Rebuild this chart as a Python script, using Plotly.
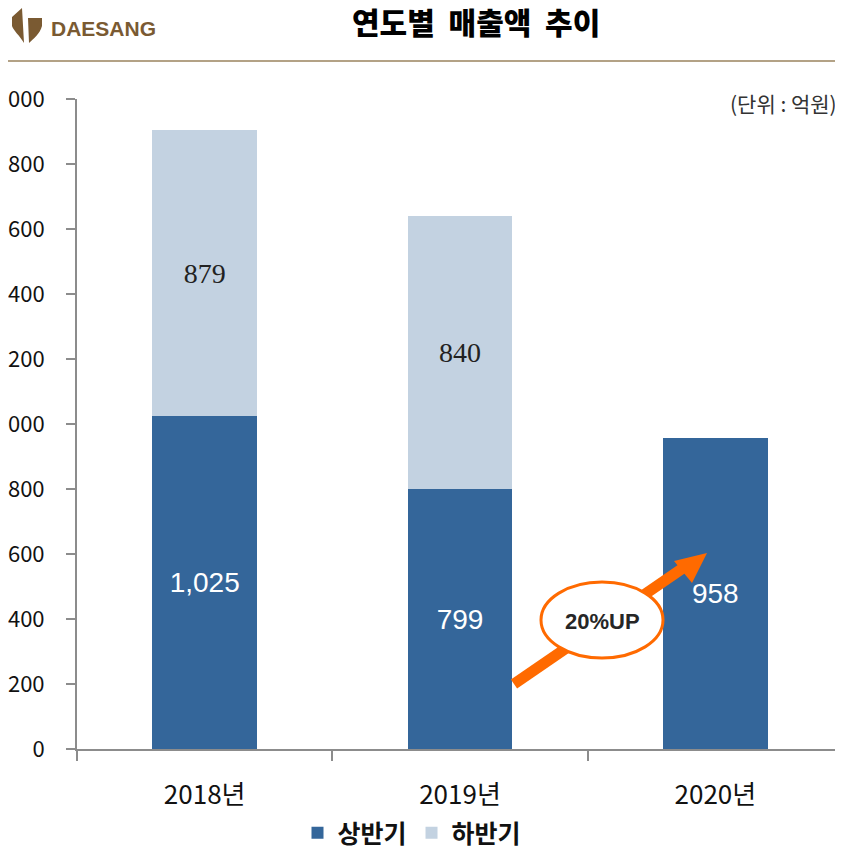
import plotly.graph_objects as go

# data (억원)
years = ["2018년", "2019년", "2020년"]
first_half = [1025, 799, 958]
second_half = [879, 840, None]
first_half_labels = ["1,025", "799", "958"]
second_half_labels = ["879", "840", ""]

# page has an 8px body margin, so the figure is smaller and starts at (8, 8)
W, H = 835, 842
L, R, T, B = 69, 0, 91, 101


def px(x):
    # window pixel x -> paper x
    return (x - 77) / 766


def py(y):
    # window pixel y -> paper y
    return (749 - y) / 650


fig = go.Figure()
fig.add_trace(go.Bar(
    name="상반기", x=years, y=first_half,
    marker=dict(color="#34669a", line=dict(width=0)),
    text=first_half_labels, textposition="inside", insidetextanchor="middle",
    textfont=dict(family="Liberation Sans, Arial", size=28, color="white"),
))
fig.add_trace(go.Bar(
    name="하반기", x=years, y=second_half,
    marker=dict(color="#c3d2e1", line=dict(width=0)),
    text=second_half_labels, textposition="inside", insidetextanchor="middle",
    textfont=dict(family="Liberation Serif, Times New Roman", size=29, color="#222222"),
))

fig.update_layout(
    width=W, height=H,
    margin=dict(l=L, r=R, t=T, b=B, autoexpand=False),
    barmode="stack", bargap=0.59,
    plot_bgcolor="white", paper_bgcolor="white",
    showlegend=True,
    legend=dict(orientation="h", xref="container", yref="container",
                x=(412 - 8) / W, xanchor="center", y=1 - (833 - 8) / H, yanchor="middle",
                font=dict(family="Noto Sans CJK KR", size=25, color="#111111", weight="bold"),
                itemwidth=30, traceorder="normal"),
    uniformtext=dict(mode="show", minsize=10),
)

fig.update_xaxes(
    showgrid=False, showline=True, linecolor="#8c8c8c", linewidth=2,
    ticks="outside", tickson="boundaries", ticklen=10, tickcolor="#8c8c8c", tickwidth=2,
    tickfont=dict(family="Noto Sans CJK KR", size=26, color="#111111"),
    ticklabelstandoff=22, automargin=False,
)
fig.update_yaxes(
    range=[0, 2000], dtick=200, tickformat=",d",
    showgrid=False, zeroline=False, showline=True, linecolor="#8c8c8c", linewidth=2,
    ticks="outside", ticklen=9, tickcolor="#8c8c8c", tickwidth=2,
    tickfont=dict(family="Noto Sans CJK KR", size=22, color="#111111"),
    ticklabelstandoff=17, automargin=False,
)

# header: logo, title, rule
fig.add_shape(type="path", xref="paper", yref="paper",
              path=f"M {px(12)} {py(17)} L {px(22)} {py(8)} L {px(24)} {py(43)} "
                   f"C {px(20)} {py(36)} {px(13)} {py(30)} {px(12)} {py(26)} Z",
              fillcolor="#7a5a32", line=dict(width=0))
fig.add_shape(type="path", xref="paper", yref="paper",
              path=f"M {px(28)} {py(18)} L {px(42)} {py(18)} L {px(42)} {py(26)} "
                   f"C {px(40)} {py(34)} {px(33)} {py(39)} {px(29)} {py(43)} Z",
              fillcolor="#7a5a32", line=dict(width=0))
fig.add_annotation(text="DAESANG", xref="paper", yref="paper", x=px(49), y=py(29),
                   xanchor="left", yanchor="middle", showarrow=False,
                   font=dict(family="Liberation Sans, Arial", size=21,
                             color="#7a5a32", weight="bold"))
fig.add_annotation(text="연도별  매출액  추이", xref="paper", yref="paper", x=px(476), y=py(21),
                   xanchor="center", yanchor="middle", showarrow=False,
                   font=dict(family="Noto Sans CJK KR", size=30, color="#000000", weight=900))
fig.add_shape(type="line", xref="paper", yref="paper", x0=px(5), x1=px(843), y0=py(61), y1=py(61),
              line=dict(color="#b3a286", width=2))
fig.add_annotation(text="(단위 : 억원)", xref="paper", yref="paper", x=px(839), y=py(103),
                   xanchor="right", yanchor="middle", showarrow=False,
                   font=dict(family="Noto Sans CJK KR", size=21, color="#333333"))

# growth arrow + badge
fig.add_shape(type="line", xref="paper", yref="paper",
              x0=px(514), y0=py(684), x1=px(686), y1=py(566),
              line=dict(color="#ff6a00", width=11))
fig.add_shape(type="path", xref="paper", yref="paper",
              path=f"M {px(707)} {py(553)} L {px(674)} {py(561)} L {px(692)} {py(583)} Z",
              fillcolor="#ff6a00", line=dict(width=0))
fig.add_shape(type="circle", xref="paper", yref="paper",
              x0=px(541), x1=px(663), y0=py(582), y1=py(658),
              fillcolor="white", line=dict(color="#ff6a00", width=3))
fig.add_annotation(text="<b>20%UP</b>", xref="paper", yref="paper", x=px(602), y=py(621),
                   xanchor="center", yanchor="middle", showarrow=False,
                   font=dict(family="Liberation Sans, Arial", size=22, color="#262626"))

fig.write_html("out.html")
